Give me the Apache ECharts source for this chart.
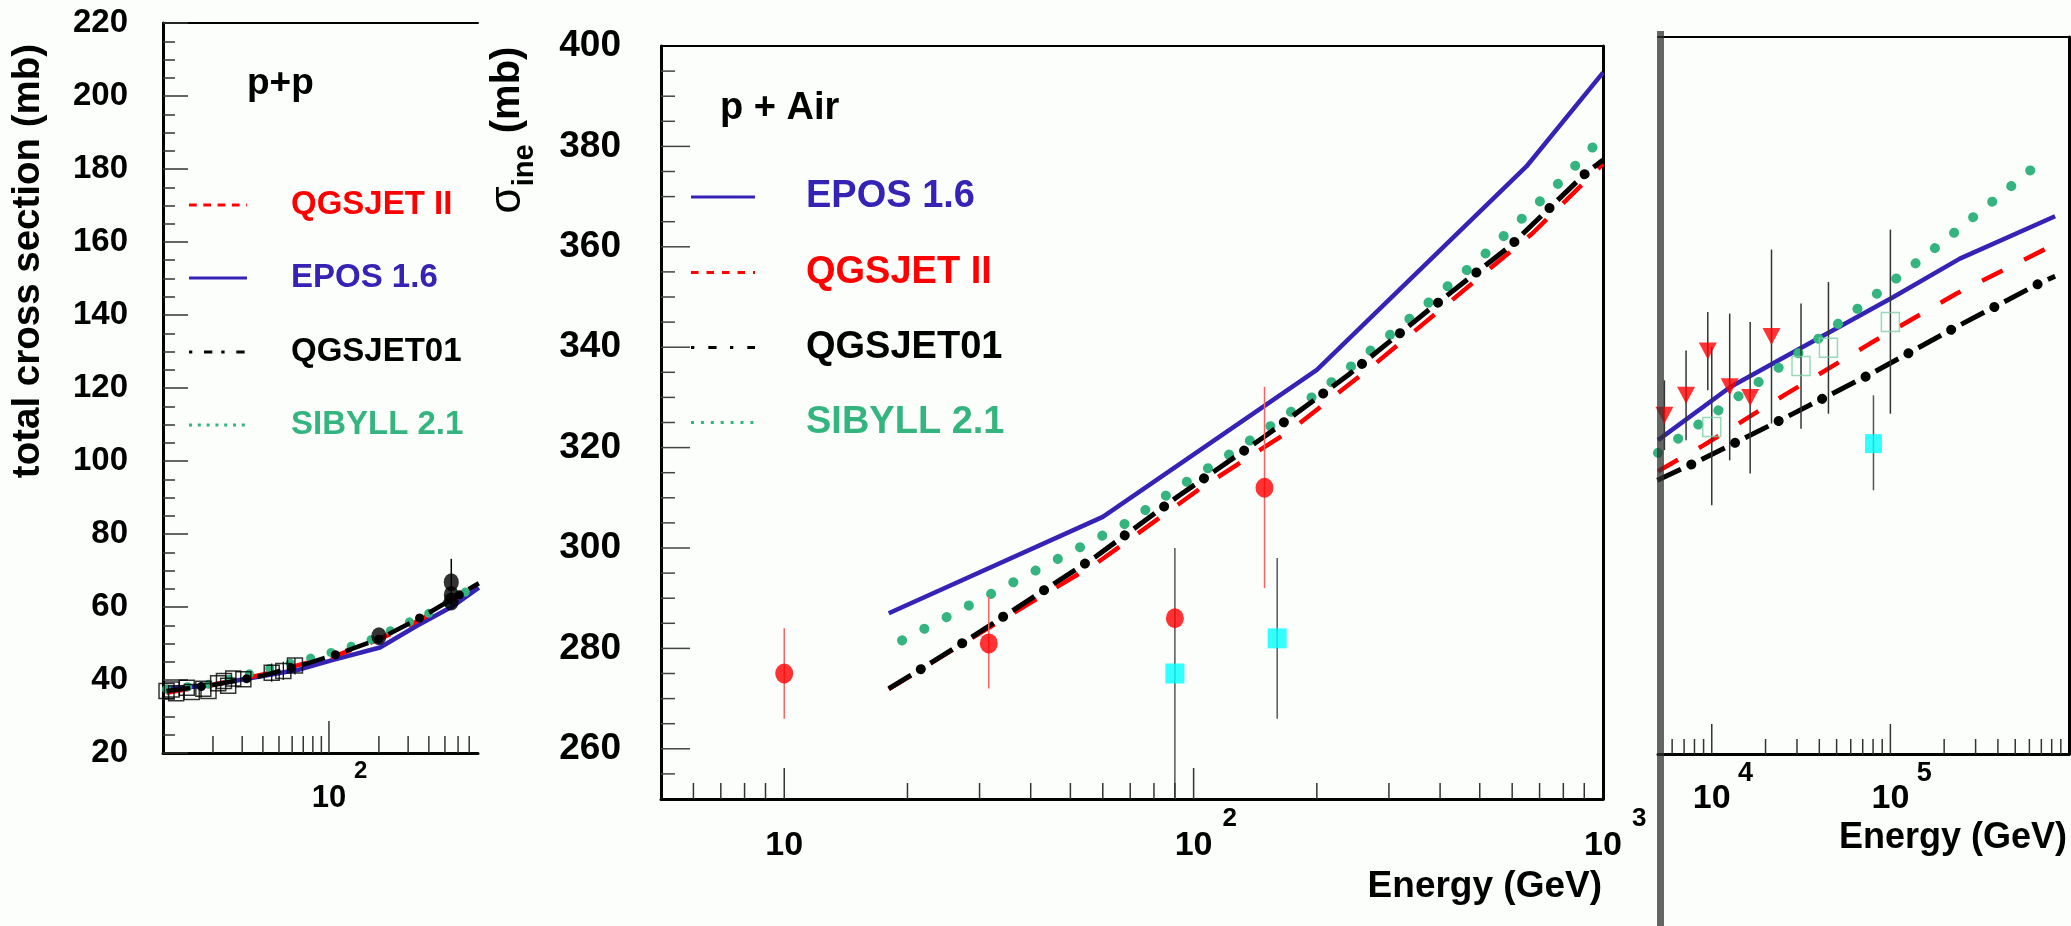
<!DOCTYPE html>
<html><head><meta charset="utf-8">
<script src="https://cdn.jsdelivr.net/npm/echarts@6/dist/echarts.min.js"></script>
<style>html,body{margin:0;padding:0;background:#fcfefc;}#c{width:2071px;height:926px;}</style>
</head><body><div id="c"></div>
<script>
// ================= DATA =================
// --- p+p panel: total cross section (mb) vs energy (GeV)
const ppEPOS     = [[10.5,37.6],[18.3,38.4],[66.8,42.9],[106,45.5],[203,48.9],[337,54.8],[561,60.3],[800,65.3]];
const ppQGSJETII = [[10.5,36.5],[13.3,37.3],[20,38.7],[40,41.5],[73.5,44.7],[106,46.4],[169,49.8],[268,53.7],[425,58.4],[800,67.3]];
const ppQGSJET01 = [[10.5,37],[20,38.6],[40,41.2],[73.5,44.5],[116,47.3],[200,51.2],[370,57.5],[800,66.5]];
const ppSIBYLL   = [[10.5,37.5],[20,39],[38.4,42.5],[94.6,47],[172.6,50.7],[305,55.9],[405,58.4],[706,64.8],[800,66.5]];
const ppISR      = [[10.5,37],[11.3,37.4],[12,36.4],[13.9,37.9],[14.9,36.7],[17.5,37.6],[18.8,37],[21.5,39.1],[23.3,39.7],[24.7,38.4],[26.5,40.4],[30.5,40.2],[45.2,42],[53.1,42.5],[62.4,44]];
const ppISRErr   = [[45.2,39.5,44.5],[53.1,40,45],[62.4,41.5,46]];
const ppCollider = [[200,52],[546,61.5],[546,63.3],[546,66.8]];
const ppColliderErr = [[546,60.5,73.2]];
const ppXMajorTicks = [100];
const ppXMinorTicks = [20,30,40,50,60,70,80,90,200,300,400,500,600,700];
const ppXLabelExps = [2];

// --- p+Air panel: sigma_ine (mb) vs energy (GeV)
const paEPOS     = [[18,287],[60,306.2],[200,335.5],[650,376],[1000,394.7]];
const paQGSJETII = [[18,271.9],[30,283],[58,297],[104,311.9],[173,323.5],[272,336.1],[428,349.4],[673,362.7],[1000,376.5]];
const paQGSJET01 = [[18,272],[21.7,276],[27.8,281.5],[57.7,298.3],[92,310.4],[149,322.2],[239,334.5],[375,347.4],[594,360.2],[908,374.7],[1000,377.3]];
const paSIBYLL   = [[19.4,281.6],[31.9,290.8],[69.3,305.2],[88.2,311.2],[127,319.5],[203,331.1],[323,344.4],[502,357.7],[767,372.1],[1000,382]];
const paRedPts   = [[10,275],[31.6,281],[90,286],[149,312]];
const paRedErr   = [[10,266,284],[31.6,272,290.3],[149,292,332.1]];
const paCyanPts  = [[90,275],[160,282]];
const paCyanErr  = [[90,245,300],[160,266,298]];
const paXMajorTicks = [10,100];
const paXMinorTicks = [6,7,8,9,20,30,40,50,60,70,80,90,200,300,400,500,600,700,800,900];
const paYMajorTicks = [260,280,300,320,340,360,380];
const paYMinorTicks = [255,265,270,275,285,290,295,305,310,315,325,330,335,345,350,355,365,370,375,385,390,395];
const paXLabelExps = [1,2,3];

// --- high-energy panel
const hiEPOS     = [[5000,447],[12700,480.3],[44000,513.8],[104000,536.8],[245000,560.9],[836000,587.5]];
const hiQGSJETII = [[5000,427.5],[8980,443.7],[26300,476.2],[76900,507.6],[235000,539],[836000,570]];
const hiQGSJET01 = [[4955,421.8],[8240,433.3],[25200,460.5],[77000,488.3],[230000,517.6],[705000,546.2],[836000,549.8]];
const hiSIBYLL   = [[5000,439],[9370,460.5],[20300,487],[44000,514.5],[93000,542.7],[196000,571.3],[411000,600.6],[700000,622]];
const hiTriPts   = [[5430,462.6],[7180,475.1],[9500,503],[12600,480.5],[16400,473.7],[21600,512]];
const hiTriErr   = [[5430,440.7,484.5],[7180,446.9,503.3],[9500,478.3,527.4],[12600,434.3,526.4],[16400,426,521.1],[21600,457.4,566.6]];
const hiSqPts    = [[10000,455.2],[31600,493.5],[45000,505],[100000,521.1]];
const hiSqErr    = [[10000,406.1,505.4],[31600,454.2,532.7],[45000,463.6,546.2],[100000,463.6,579.1]];
const hiCyanPts  = [[80400,444.8]];
const hiCyanErr  = [[80400,415.5,475.1]];
const hiXMajorTicks = [10000,100000];
const hiXMinorTicks = [6000,7000,8000,9000,20000,30000,40000,50000,60000,70000,80000,90000,200000,300000,400000,500000,600000,700000,800000,900000];
const hiXLabelExps = [4,5];

// Legend labels
const ppLegend = ['QGSJET II','EPOS 1.6','QGSJET01','SIBYLL 2.1'];
const paLegend = ['EPOS 1.6','QGSJET II','QGSJET01','SIBYLL 2.1'];

// ================= STYLE =================
const fontR = "'Liberation Sans', Arial, Helvetica, sans-serif";
const BLUE = '#3523b5', RED = '#ff0000', GREEN = '#34b47e', CYAN = '#00ffff';

function lineS(xi, yi, data, color, width, type, cap, offset) {
  return {type:'line', xAxisIndex:xi, yAxisIndex:yi, data:data, symbol:'none', showSymbol:false,
    silent:true, z:2, animation:false,
    lineStyle:{color:color, width:width, type:type, cap:cap, dashOffset:offset}};
}
function errS(xi, yi, data, color, width) {
  return {type:'custom', xAxisIndex:xi, yAxisIndex:yi, silent:true, z:3, clip:true, animation:false,
    encode:{x:0, y:[1,2]}, data:data,
    renderItem:function(params, api){
      const a = api.coord([api.value(0), api.value(1)]);
      const b = api.coord([api.value(0), api.value(2)]);
      return {type:'line', shape:{x1:a[0],y1:a[1],x2:b[0],y2:b[1]}, style:{stroke:color, lineWidth:width}};
    }};
}
function tickS(xi, yi, vals, dir, anchor, len, color) {
  return {type:'custom', xAxisIndex:xi, yAxisIndex:yi, silent:true, z:5, clip:false, animation:false,
    encode:{x:0, y:1},
    data: vals.map(function(v){ return dir === 'x' ? [v, anchor] : [anchor, v]; }),
    renderItem:function(params, api){
      const p = api.coord([api.value(0), api.value(1)]);
      const shape = dir === 'x' ? {x1:p[0],y1:p[1],x2:p[0],y2:p[1]-len} : {x1:p[0],y1:p[1],x2:p[0]+len,y2:p[1]};
      return {type:'line', shape:shape, style:{stroke:color, lineWidth:1.5}};
    }};
}
function scat(xi, yi, data, symbol, size, color, border, rot) {
  return {type:'scatter', xAxisIndex:xi, yAxisIndex:yi, data:data, symbol:symbol, symbolSize:size,
    symbolRotate: rot || 0, silent:true, z:4, animation:false,
    itemStyle: border ? {color:'rgba(0,0,0,0)', borderColor:border, borderWidth:1.5} : {color:color}};
}
// label formatters for decade ticks: base "10" and its exponent (drawn as a superscript on a twin axis)
function isShownDecade(v, exps) {
  const e = Math.log10(v), r = Math.round(e);
  return (Math.abs(e - r) < 1e-6 && exps.indexOf(r) >= 0) ? r : null;
}
const baseFmt = (exps) => function(v){ return isShownDecade(v, exps) !== null ? '10' : ''; };
const expFmt = (exps, skip) => function(v){ const r = isShownDecade(v, exps); return (r === null || r === skip) ? '' : String(r); };

const hidden = {axisTick:{show:false}, axisLabel:{show:false}, splitLine:{show:false}, minorTick:{show:false}};
function baseAxis(grid, min, max, exps, fs, margin) {
  return Object.assign({}, hidden, {type:'log', gridIndex:grid, position:'bottom', min:min, max:max,
    axisLine:{show:true, lineStyle:{color:'#000', width:3}},
    axisLabel:{show:true, margin:margin, formatter:baseFmt(exps), color:'#000', fontFamily:fontR,
      fontWeight:'bold', fontSize:fs, lineHeight:fs}});
}
function expAxis(grid, min, max, exps, fs, margin, padL, skip) {
  return Object.assign({}, hidden, {type:'log', gridIndex:grid, position:'bottom', min:min, max:max,
    axisLine:{show:false},
    axisLabel:{show:true, margin:margin, formatter:expFmt(exps, skip), color:'#000', fontFamily:fontR,
      fontWeight:'bold', fontSize:fs, lineHeight:fs, align:'left', padding:[0,0,0,padL]}});
}
function topAxis(grid, min, max) {
  return Object.assign({}, hidden, {type:'log', gridIndex:grid, position:'top', min:min, max:max,
    axisLine:{show:true, lineStyle:{color:'#000', width:2}}});
}

const xAxis = [
  baseAxis(0, 10, 791, ppXLabelExps, 31, 30),            // 0 p+p
  topAxis(0, 10, 791),                                   // 1
  baseAxis(1, 5, 1000, paXLabelExps, 34, 29.5),          // 2 p+Air
  topAxis(1, 5, 1000),                                   // 3
  baseAxis(2, 5000, 1000000, hiXLabelExps, 34, 27.8),    // 4 high energy
  topAxis(2, 5000, 1000000),                             // 5
  expAxis(0, 10, 791, ppXLabelExps, 24, 6.8, 25),        // 6 superscripts
  expAxis(1, 5, 1000, paXLabelExps, 26, 7, 29, 1),       // 7
  expAxis(2, 5000, 1000000, hiXLabelExps, 27, 5.8, 26.3) // 8
];

const yAxis = [
  {type:'value', gridIndex:0, min:20, max:220, interval:20,
    axisLine:{show:true, lineStyle:{color:'#000', width:3}},
    axisTick:{show:true, inside:true, length:25, lineStyle:{color:'#333', width:1.5}},
    minorTick:{show:true, splitNumber:4, length:12, lineStyle:{color:'#333', width:1.5}},
    splitLine:{show:false}, minorSplitLine:{show:false},
    axisLabel:{margin:35, color:'#000', fontSize:33, fontWeight:'bold', fontFamily:fontR}},
  Object.assign({}, hidden, {type:'value', gridIndex:1, min:250, max:400, interval:10,
    axisLine:{show:true, lineStyle:{color:'#000', width:3}},
    axisLabel:{show:true, margin:40, color:'#000', fontSize:37, fontWeight:'bold', fontFamily:fontR,
      formatter:function(v){ return (v % 20 === 0) ? String(v) : ''; }}}),
  Object.assign({}, hidden, {type:'value', gridIndex:1, position:'right', min:250, max:400,
    axisLine:{show:true, lineStyle:{color:'#000', width:3}}}),
  Object.assign({}, hidden, {type:'value', gridIndex:2, min:250, max:700, show:false}),
  Object.assign({}, hidden, {type:'value', gridIndex:2, position:'right', min:250, max:700,
    axisLine:{show:true, lineStyle:{color:'#000', width:3}}})
];

const series = [
  // ---- p+p
  lineS(0,0, ppEPOS, BLUE, 4.5, 'solid', 'butt', 0),
  lineS(0,0, ppQGSJETII, RED, 4.5, [22,20], 'butt', 0),
  lineS(0,0, ppSIBYLL, GREEN, 9, [0.1,21], 'round', 0),
  lineS(0,0, ppQGSJET01, '#000', 4.5, [24,22], 'butt', 0),
  lineS(0,0, ppQGSJET01, '#000', 9, [0.1,45.9], 'round', 10.9),
  errS(0,0, ppISRErr, '#000', 1.2),
  errS(0,0, ppColliderErr, '#000', 1.5),
  scat(0,0, ppISR, 'rect', [15,15], null, '#000'),
  scat(0,0, ppCollider, 'circle', [15,18], '#000'),
  tickS(0,0, ppXMajorTicks, 'x', 20, 32, '#333'),
  tickS(0,0, ppXMinorTicks, 'x', 20, 17, '#333'),
  // ---- p+Air
  lineS(2,1, paEPOS, BLUE, 4.5, 'solid', 'butt', 0),
  lineS(2,1, paQGSJETII, RED, 4.5, [26,23], 'butt', 0),
  lineS(2,1, paSIBYLL, GREEN, 10, [0.1,25], 'round', 0),
  lineS(2,1, paQGSJET01, '#000', 5, [26,22.8], 'butt', 0),
  lineS(2,1, paQGSJET01, '#000', 10, [0.1,48.7], 'round', 11.4),
  errS(2,1, paRedErr, '#ff6060', 1.5),
  errS(2,1, paCyanErr, '#555', 1.5),
  scat(2,1, paRedPts, 'circle', [18,20], RED),
  scat(2,1, paCyanPts, 'rect', [19,20], CYAN),
  tickS(2,1, paXMajorTicks, 'x', 250, 31, '#333'),
  tickS(2,1, paXMinorTicks, 'x', 250, 16, '#333'),
  tickS(2,1, paYMajorTicks, 'y', 5, 29, '#444'),
  tickS(2,1, paYMinorTicks, 'y', 5, 14, '#444'),
  // ---- high energy
  lineS(4,3, hiEPOS, BLUE, 4.5, 'solid', 'butt', 0),
  lineS(4,3, hiQGSJETII, RED, 4.5, [23,24], 'butt', 0),
  lineS(4,3, hiSIBYLL, GREEN, 10, [0.1,24.5], 'round', 0),
  lineS(4,3, hiQGSJET01, '#000', 5, [26,22.8], 'butt', 0),
  lineS(4,3, hiQGSJET01, '#000', 10, [0.1,48.7], 'round', 11.4),
  errS(4,3, hiTriErr, '#333', 1.5),
  errS(4,3, hiSqErr, '#333', 1.5),
  errS(4,3, hiCyanErr, '#555', 1.5),
  scat(4,3, hiTriPts, 'triangle', [18,17], RED, null, 180),
  scat(4,3, hiSqPts, 'rect', [18,19], null, '#7fcfa8'),
  scat(4,3, hiCyanPts, 'rect', [17,19], CYAN),
  tickS(4,3, hiXMajorTicks, 'x', 250, 30, '#333'),
  tickS(4,3, hiXMinorTicks, 'x', 250, 15, '#333')
];

function txt(x, y, text, size, color, align, extra) {
  return Object.assign({type:'text', x:x, y:y, z:20, silent:true,
    style:{text:text, fill:color, fontSize:size, fontWeight:'bold', fontFamily:fontR,
      align:align||'left', verticalAlign:'middle', textAlign:align||'left', textVerticalAlign:'middle'}}, extra||{});
}
function lseg(x1, x2, y, color, width, dash) {
  return {type:'line', z:20, silent:true, shape:{x1:x1,y1:y,x2:x2,y2:y},
    style:{stroke:color, lineWidth:width, lineDash:dash||null}};
}
const ppColors = [RED, BLUE, '#000', GREEN];
const ppDash = [[7.7,6.6], null, [3.3,11.7,8.3,9], [3,5.8]];
const ppRows = [205, 278, 352, 425];
const paColors = [BLUE, RED, '#000', GREEN];
const paDash = [null, [7.5,8], [3.3,14,8.3,13.4], [3,6.9]];
const paRows = [197, 272.5, 347.5, 422.5];

const graphic = [];
ppLegend.forEach(function(name, i){
  graphic.push(lseg(189, 247, ppRows[i], ppColors[i], 3, ppDash[i]));
  graphic.push(txt(291, ppRows[i], name, 33, ppColors[i]));
});
paLegend.forEach(function(name, i){
  graphic.push(lseg(691, 755, paRows[i], paColors[i], 3, paDash[i]));
  graphic.push(txt(806, paRows[i], name, 38, paColors[i]));
});
graphic.push(txt(247, 84, 'p+p', 37, '#000'));
graphic.push(txt(720, 109, 'p + Air', 38, '#000'));
graphic.push(txt(28, 261, 'total cross section (mb)', 38.5, '#000', 'center', {rotation:Math.PI/2}));
graphic.push({type:'text', x:513.6, y:130, z:20, silent:true, rotation:Math.PI/2,
  style:{text:'{g|σ}{i|ine}{m| (mb)}', align:'center', verticalAlign:'middle', textAlign:'center', textVerticalAlign:'middle',
    rich:{
      g:{fontFamily:fontR, fontWeight:'normal', fontSize:44, height:40, lineHeight:51, verticalAlign:'top', fill:'#000', color:'#000'},
      i:{fontFamily:fontR, fontWeight:'bold', fontSize:29, height:29, lineHeight:51, verticalAlign:'bottom', fill:'#000', color:'#000'},
      m:{fontFamily:fontR, fontWeight:'bold', fontSize:40, height:40, lineHeight:51, verticalAlign:'top', fill:'#000', color:'#000'}
    }}});
graphic.push(txt(1602, 887, 'Energy (GeV)', 37, '#000', 'right'));
graphic.push(txt(2067, 838.5, 'Energy (GeV)', 36, '#000', 'right'));
graphic.push({type:'rect', z:30, silent:true, shape:{x:1657, y:31, width:7, height:895}, style:{fill:'rgba(50,50,50,0.75)'}});

const chart = echarts.init(document.getElementById('c'), null, {renderer:'canvas', width:2071, height:926});
chart.setOption({
  backgroundColor:'#fcfefc',
  animation:false,
  textStyle:{fontFamily:fontR},
  grid:[
    {left:163, top:23, width:315, height:730, containLabel:false, outerBoundsMode:'none'},
    {left:661, top:46, width:942, height:753, containLabel:false, outerBoundsMode:'none'},
    {left:1658, top:37, width:411, height:717, containLabel:false, outerBoundsMode:'none'}
  ],
  xAxis:xAxis, yAxis:yAxis, series:series, graphic:graphic
});
</script></body></html>
